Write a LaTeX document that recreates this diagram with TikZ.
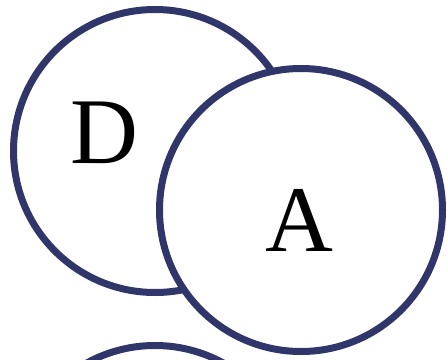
\documentclass[tikz,border=0pt]{standalone}
\usepackage{fontspec}
\setmainfont{Liberation Serif}
\usepackage{xcolor}
\definecolor{navy}{HTML}{30366A}
\usepackage{tikz}
\usetikzlibrary{calc}
\tikzset{
  set/.style={circle, draw=navy, fill=white, line width=7pt, minimum size=283pt, inner sep=0pt},
  setlabel/.style={font=\fontsize{94}{94}\selectfont, text=black, inner sep=0pt},
}

\begin{document}
\begin{tikzpicture}[x=1pt, y=-1pt]
  \useasboundingbox (0,0) rectangle (447,359);

  \node[set] (c) at (155,487) {};
  \node[set] (d) at (155,151) {};
  \node[set] (a) at (301,210) {};

  \node[setlabel] (dlab) at ($(d)+(-51,-18)$) {D};
  \node[setlabel] (alab) at ($(a)+(-2,10)$) {A};
\end{tikzpicture}
\end{document}
